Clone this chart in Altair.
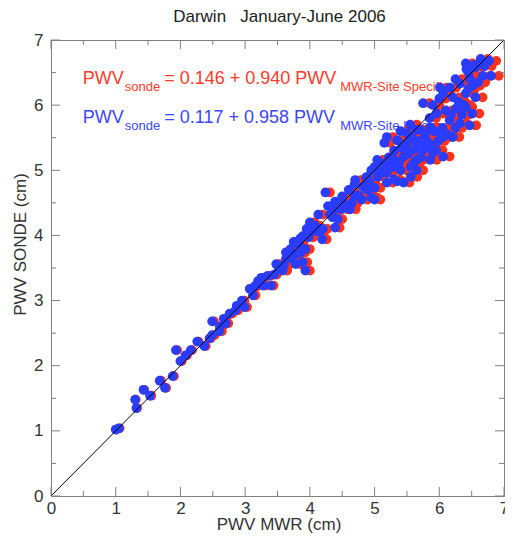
import altair as alt
import pandas as pd

# PWV from radiosonde (cm)
sonde = [1.02, 1.04, 1.35, 1.48, 1.63, 1.54, 1.77, 1.66, 1.84, 2.24,
         2.07, 2.16, 2.24, 2.37, 2.30, 2.42, 2.47, 2.53, 2.68, 2.72,
         2.60, 2.80, 2.92, 3.00, 2.90, 3.18, 3.08, 3.30, 3.23, 3.38,
         3.23, 3.56, 3.46, 3.74, 3.64, 3.90, 3.74, 3.46, 3.59, 3.49,
         3.64, 3.79, 3.87, 3.79, 3.56, 3.97, 4.66, 4.32, 4.32, 4.12,
         4.52, 4.50, 3.94, 4.06, 3.99, 3.90, 4.50, 4.78, 4.55, 4.89,
         4.58, 4.73, 5.05, 4.96, 4.81, 5.11, 4.83, 6.64, 6.71, 6.68,
         6.58, 6.45, 6.45, 6.41, 6.33, 6.27, 6.27, 6.18, 6.12, 6.18,
         6.12, 6.03, 6.00, 5.87, 5.92, 5.95, 5.97, 5.87, 5.77, 5.72,
         5.69, 5.66, 5.62, 5.57, 5.51, 5.51, 5.46, 5.42, 5.42, 5.36,
         5.31, 5.21, 5.16, 5.11, 5.21, 5.16, 5.11, 4.90, 4.96, 5.00,
         5.00, 4.90, 5.51, 5.46, 5.27, 5.16, 5.05, 4.81, 4.86, 4.55,
         4.70, 4.60, 4.40, 4.40, 5.16, 5.00, 5.05, 5.42, 5.30, 5.57,
         5.62, 5.31, 4.60, 4.25, 4.45, 6.05, 6.10, 6.50, 5.30, 4.20,
         4.10, 4.05,
         4.45, 4.40, 4.62, 4.75, 4.85, 4.82, 4.90, 5.02, 5.20, 5.05,
         5.12, 5.35, 5.25, 5.50, 5.32, 5.45, 5.20, 5.55, 5.40, 5.60,
         5.45, 5.65, 5.55, 5.85, 5.65, 5.85, 6.00, 6.25, 6.30, 6.35,
         6.40, 6.55, 6.62, 6.60, 5.80, 5.70, 5.60, 4.70, 3.55, 3.70,
         3.72, 3.95, 4.15, 4.10, 4.28, 3.40, 3.35, 3.22, 2.85, 2.65]

# PWV from MWR, site-independent retrieval (blue)
mwr_indep = [1.00, 1.05, 1.32, 1.30, 1.43, 1.53, 1.68, 1.76, 1.88, 1.93,
             2.00, 2.08, 2.16, 2.26, 2.37, 2.45, 2.49, 2.60, 2.49, 2.67,
             2.61, 2.76, 2.87, 2.95, 2.99, 3.07, 3.12, 3.20, 3.28, 3.35,
             3.40, 3.48, 3.58, 3.63, 3.73, 3.75, 3.86, 3.93, 3.89, 3.52,
             3.63, 3.70, 3.83, 3.93, 3.78, 3.98, 4.24, 4.13, 4.31, 4.39,
             4.39, 4.51, 4.19, 4.04, 3.89, 3.78, 4.65, 4.69, 4.80, 4.87,
             4.95, 5.00, 5.00, 5.10, 5.19, 5.25, 5.35, 6.41, 6.64, 6.77,
             6.56, 6.80, 6.67, 6.47, 6.32, 6.16, 6.01, 6.06, 6.21, 6.41,
             6.56, 5.75, 5.90, 5.96, 6.10, 6.26, 6.41, 6.51, 6.16, 6.32,
             6.47, 5.86, 5.71, 6.01, 6.21, 5.19, 5.35, 5.50, 5.65, 5.80,
             5.95, 6.06, 5.86, 5.60, 5.45, 5.30, 5.10, 4.89, 5.19, 5.40,
             5.65, 5.56, 6.06, 5.80, 5.90, 5.65, 5.56, 5.45, 5.30, 5.00,
             4.89, 4.69, 4.49, 4.39, 5.04, 4.95, 5.19, 5.15, 5.30, 5.50,
             5.65, 5.75, 4.50, 4.43, 4.28, 6.30, 6.00, 6.45, 5.50, 4.00,
             3.95, 4.15,
             4.55, 4.62, 4.75, 4.82, 4.70, 4.92, 5.05, 5.12, 5.22, 5.28,
             5.38, 5.42, 5.52, 5.58, 5.62, 5.70, 5.72, 5.78, 5.85, 5.92,
             5.98, 6.05, 6.12, 6.18, 6.25, 6.35, 6.38, 6.45, 6.52, 6.60,
             6.25, 6.42, 6.55, 6.70, 5.85, 5.55, 5.40, 4.60, 3.60, 3.68,
             3.80, 3.85, 4.08, 4.20, 4.35, 3.45, 3.25, 3.15, 2.85, 2.70]

# PWV from MWR, site-specific retrieval (red)
mwr_spec = [1.01, 1.06, 1.33, 1.31, 1.44, 1.55, 1.70, 1.78, 1.90, 1.95,
            2.02, 2.10, 2.18, 2.28, 2.39, 2.47, 2.53, 2.64, 2.52, 2.71,
            2.65, 2.80, 2.91, 2.99, 3.03, 3.11, 3.16, 3.24, 3.32, 3.39,
            3.44, 3.53, 3.65, 3.70, 3.80, 3.82, 3.93, 4.00, 3.96, 3.59,
            3.70, 3.77, 3.90, 4.00, 3.85, 4.05, 4.31, 4.20, 4.38, 4.46,
            4.46, 4.60, 4.26, 4.11, 3.96, 3.85, 4.74, 4.78, 4.89, 4.96,
            5.04, 5.09, 5.09, 5.19, 5.28, 5.34, 5.44, 6.51, 6.75, 6.88,
            6.67, 6.92, 6.78, 6.57, 6.42, 6.26, 6.11, 6.16, 6.31, 6.51,
            6.67, 5.85, 6.00, 6.06, 6.20, 6.36, 6.51, 6.62, 6.26, 6.42,
            6.57, 5.96, 5.81, 6.11, 6.31, 5.28, 5.44, 5.60, 5.75, 5.90,
            6.05, 6.16, 5.96, 5.70, 5.54, 5.39, 5.19, 4.98, 5.28, 5.49,
            5.75, 5.66, 6.16, 5.90, 6.00, 5.75, 5.66, 5.54, 5.39, 5.09,
            4.98, 4.78, 4.58, 4.46, 5.13, 5.04, 5.28, 5.24, 5.39, 5.60,
            5.75, 5.85, 4.59, 4.50, 4.35, 6.40, 6.10, 6.55, 5.60, 4.07,
            4.02, 4.22,
            4.64, 4.71, 4.84, 4.91, 4.79, 5.01, 5.14, 5.21, 5.31, 5.37,
            5.47, 5.51, 5.62, 5.68, 5.72, 5.80, 5.82, 5.88, 5.95, 6.02,
            6.08, 6.15, 6.22, 6.28, 6.35, 6.45, 6.48, 6.55, 6.63, 6.71,
            6.35, 6.52, 6.66, 6.81, 5.95, 5.65, 5.49, 4.69, 3.67, 3.75,
            3.87, 3.92, 4.15, 4.27, 4.42, 3.49, 3.29, 3.19, 2.89, 2.74]

major_ticks = [0, 1, 2, 3, 4, 5, 6, 7]
minor_ticks = [0.5, 1.5, 2.5, 3.5, 4.5, 5.5, 6.5]
one_to_one = [0, 7]

title_text = "Darwin\u00a0\u00a0\u00a0January-June 2006"
eq_main_text = ["PWV", "= 0.146 + 0.940 PWV", "PWV", "= 0.117 + 0.958 PWV"]
eq_main_x = [0.49, 1.75, 0.49, 1.75]
eq_main_y = [6.33, 6.33, 5.73, 5.73]
eq_sub_text = ["sonde", "MWR-Site Specific", "sonde", "MWR-Site Independent"]
eq_sub_x = [1.14, 4.47, 1.14, 4.47]
eq_sub_y = [6.22, 6.21, 5.62, 5.62]

RED = "#ff3318"
BLUE = "#2a3cff"
RED_TXT = "#ff3b2b"
BLUE_TXT = "#3b46ff"
eq_colors = [RED_TXT, RED_TXT, BLUE_TXT, BLUE_TXT]

FONT = "Liberation Sans"
W = 453
H = 456
FRAME = "#808080"

xs = alt.Scale(domain=[0, 7], nice=False, zero=False)
ys = alt.Scale(domain=[0, 7], nice=False, zero=False)

x_axis = alt.Axis(values=major_ticks, ticks=False, tickSize=0, domain=False, grid=False,
                  labelFlush=False, labelPadding=4, labelFontSize=17, labelColor="#333333",
                  labelFont=FONT, title="PWV MWR (cm)", titleFont=FONT, titleFontSize=17,
                  titleFontWeight="normal", titleColor="#333333", titleX=W / 2 + 1, titleY=33,
                  titleBaseline="alphabetic", titleAlign="center")
y_axis = alt.Axis(values=major_ticks, ticks=False, tickSize=0, domain=False, grid=False,
                  labelFlush=False, labelPadding=8, labelFontSize=17, labelColor="#333333",
                  labelFont=FONT, title="PWV SONDE (cm)", titleFont=FONT, titleFontSize=17,
                  titleFontWeight="normal", titleColor="#333333", titleAngle=270,
                  titleX=-26, titleY=H / 2 - 24, titleBaseline="alphabetic", titleAlign="center")

X = lambda f: alt.X(f, type="quantitative", scale=xs, axis=x_axis)
Y = lambda f: alt.Y(f, type="quantitative", scale=ys, axis=y_axis)

red_df = pd.DataFrame({"mwr": mwr_spec, "sonde": sonde})
blue_df = pd.DataFrame({"mwr": mwr_indep, "sonde": sonde})
line_df = pd.DataFrame({"mwr": one_to_one, "sonde": one_to_one})
main_df = pd.DataFrame({"mwr": eq_main_x, "sonde": eq_main_y, "t": eq_main_text, "c": eq_colors})
sub_df = pd.DataFrame({"mwr": eq_sub_x, "sonde": eq_sub_y, "t": eq_sub_text, "c": eq_colors})
maj_df = pd.DataFrame({"mwr": major_ticks, "sonde": major_ticks})
min_df = pd.DataFrame({"mwr": minor_ticks, "sonde": minor_ticks})
title_df = pd.DataFrame({"t": [title_text]})

title_mark = alt.Chart(title_df).mark_text(font=FONT, fontSize=17, align="center", baseline="alphabetic",
                                           color="#222222").encode(
    x=alt.value(W / 2 + 2), y=alt.value(-18), text="t:N")
main_txt = alt.Chart(main_df).mark_text(font=FONT, fontSize=18, align="left", baseline="alphabetic").encode(
    x=X("mwr"), y=Y("sonde"), text="t:N", color=alt.Color("c:N", scale=None))
sub_txt = alt.Chart(sub_df).mark_text(font=FONT, fontSize=13, align="left", baseline="alphabetic").encode(
    x=X("mwr"), y=Y("sonde"), text="t:N", color=alt.Color("c:N", scale=None))

red_pts = alt.Chart(red_df).mark_circle(size=95, opacity=1, color=RED).encode(x=X("mwr"), y=Y("sonde"))
blue_pts = alt.Chart(blue_df).mark_circle(size=95, opacity=1, color=BLUE).encode(x=X("mwr"), y=Y("sonde"))
diag = alt.Chart(line_df).mark_line(color="black", strokeWidth=1).encode(x=X("mwr"), y=Y("sonde"))


def tick_layers(df, L):
    rule = dict(color=FRAME, strokeWidth=1)
    bottom = alt.Chart(df).mark_rule(**rule).encode(x=X("mwr"), y=alt.value(H), y2=alt.value(H - L))
    top = alt.Chart(df).mark_rule(**rule).encode(x=X("mwr"), y=alt.value(0), y2=alt.value(L))
    left = alt.Chart(df).mark_rule(**rule).encode(y=Y("sonde"), x=alt.value(0), x2=alt.value(L))
    right = alt.Chart(df).mark_rule(**rule).encode(y=Y("sonde"), x=alt.value(W), x2=alt.value(W - L))
    return [bottom, top, left, right]


layers = [title_mark, main_txt, sub_txt, red_pts, blue_pts, diag] + tick_layers(maj_df, 9) + tick_layers(min_df, 5)

chart = alt.layer(*layers).properties(
    width=W, height=H,
    autosize=alt.AutoSizeParams(type="none"),
    padding={"left": 43, "right": 1, "top": 32, "bottom": 37},
).configure_view(stroke=FRAME, strokeWidth=1)

chart.save("out.html", embed_options={"renderer": "svg", "actions": False})
